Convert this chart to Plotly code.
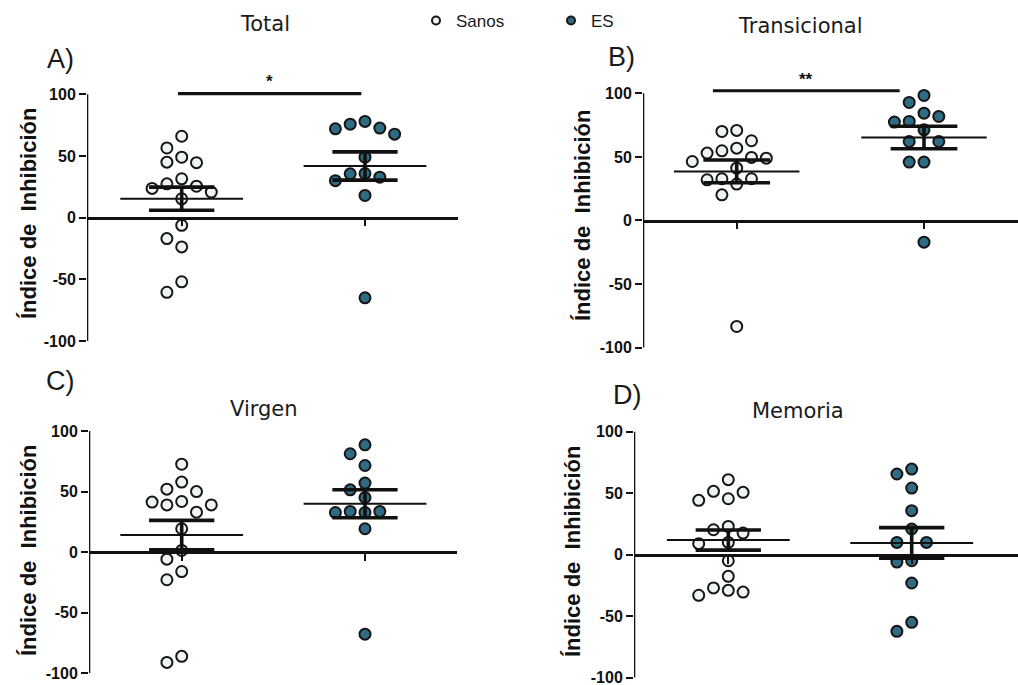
import numpy as np
import plotly.graph_objects as go

# ---------------- data ----------------
groups = ["Sanos", "ES"]
panel_titles = ["Total", "Transicional", "Virgen", "Memoria"]
panel_letters = ["A)", "B)", "C)", "D)"]
sig_labels = ["*", "**", "", ""]
y_title = "Índice de&nbsp; Inhibición"
y_ticks = [-100, -50, 0, 50, 100]

total_sanos = [66, 56.5, 45, 44.6, 49, 31.5, 25.5, 20.7, 23.7, 27.4, 15.3, -6.2, -17, -23.7, -52, -60.5]
total_es = [78, 72.6, 67.7, 72, 75.8, 49, 35.5, 30, 32.8, 35.8, 18, -65]

trans_sanos = [62.7, 70, 70.8, 54.8, 53, 56.9, 49, 49.6, 46.4, 41.2, 32.8, 28.6, 32, 32.8, 20.2, -83.3]
trans_es = [84.4, 92.8, 98.3, 77.9, 77.4, 81.8, 71.3, 62.1, 62.1, 45.9, 45.9, -17]

virgen_sanos = [72.6, 52, 50, 57.8, 41.8, 39, 39, 41.3, 33, 19.3, 1.4, -5.8, -16, -22.8, -86, -91]
virgen_es = [88.6, 81.2, 71.5, 57, 51.4, 45.1, 33.6, 32.7, 32.7, 33.6, 19.3, -67.7]

memoria_sanos = [61, 51.5, 50.7, 45.5, 44.2, 20.3, 23, 17.6, 10, 9, -4.9, -17.6, -29, -33, -30.4, -27]
memoria_es = [65.6, 69.6, 54.2, 35.8, 20.9, 10, 10, -6, -4.9, -23, -55, -62.3]

panel_data = [
    (total_sanos, total_es),
    (trans_sanos, trans_es),
    (virgen_sanos, virgen_es),
    (memoria_sanos, memoria_es),
]

# ---------------- layout geometry (pixels) ----------------
W, H = 1018, 685
geom = [
    dict(xl=87, xr=458, c0=181.7, c1=365.0, y100=94.3, ym100=341.0, ymax=106),
    dict(xl=643, xr=1018, c0=736.7, c1=924.0, y100=93.3, ym100=347.7, ymax=106),
    dict(xl=89, xr=457, c0=181.7, c1=365.0, y100=431.0, ym100=673.3, ymax=104),
    dict(xl=634, xr=1018, c0=728.3, c1=911.7, y100=431.7, ym100=677.7, ymax=104),
]
title_pos = [(265, 24), (800, 26), (264, 409), (798, 411)]
letter_pos = [(60, 59), (621, 57), (60, 381), (627, 395)]
ytitle_pos = [(28, 214), (582, 216), (28, 551), (572, 552)]
sig_geom = [dict(x0=-0.02, x1=0.98, yb=100.5, ys=110), dict(x0=-0.127, x1=0.87, yb=102, ys=111)]

sanos_fill = "#edf5ef"
es_fill = "#2f6b82"
edge = "#161616"
AX = "#111111"

fig = go.Figure()


def swarm(values, ppu, slot_px, diam):
    """simple beeswarm: returns slot offsets (integers) for each value"""
    order = np.argsort(-np.asarray(values, dtype=float), kind="stable")
    placed = []
    slots = np.zeros(len(values))
    cands = [0, -1, 1, -2, 2, -3, 3, -4, 4]
    for i in order:
        v = values[i]
        for c in cands:
            ok = True
            for (pv, pc) in placed:
                dy = (v - pv) * ppu
                dx = (c - pc) * slot_px
                if dx * dx + dy * dy < diam * diam:
                    ok = False
                    break
            if ok:
                slots[i] = c
                placed.append((v, c))
                break
    return slots


shapes = []
annotations = []

for p in range(4):
    g = geom[p]
    n = p + 1
    xa = "x" if n == 1 else f"x{n}"
    ya = "y" if n == 1 else f"y{n}"
    xkey = "xaxis" if n == 1 else f"xaxis{n}"
    ykey = "yaxis" if n == 1 else f"yaxis{n}"

    sp = g["c1"] - g["c0"]
    ppu = (g["ym100"] - g["y100"]) / 200.0
    xr0 = (g["xl"] - g["c0"]) / sp
    xr1 = (g["xr"] - g["c0"]) / sp
    top_px = g["y100"] - (g["ymax"] - 100) * ppu
    bot_px = g["ym100"]
    zero_px = g["y100"] + 100 * ppu

    fig.layout[xkey] = dict(
        domain=[g["xl"] / W, g["xr"] / W], range=[xr0, xr1], anchor="free",
        position=1 - zero_px / H, showline=True, linewidth=2.6, linecolor=AX,
        ticks="outside", ticklen=7, tickwidth=2.4, tickcolor=AX,
        tickvals=[0, 1], showticklabels=False, showgrid=False, zeroline=False,
        fixedrange=True, automargin=False,
    )
    fig.layout[ykey] = dict(
        domain=[1 - bot_px / H, 1 - top_px / H], range=[-100, g["ymax"]],
        anchor=xa, showline=False, ticks="outside", ticklen=7, tickwidth=2.4,
        tickcolor=AX, tickvals=y_ticks, ticktext=[str(t) for t in y_ticks],
        tickfont=dict(family="Liberation Sans", size=16, color=AX, weight="bold"),
        ticklabeloverflow="allow",
        showgrid=False, zeroline=False, fixedrange=True, automargin=False,
    )
    shapes.append(dict(type="line", xref=xa, yref=ya, x0=xr0, x1=xr0, y0=-100, y1=100,
                       line=dict(color=AX, width=2.6)))

    slot_x = 14.8 / sp
    for gi, vals in enumerate(panel_data[p]):
        vals = np.asarray(vals, dtype=float)
        offs = swarm(list(vals), ppu, 14.8, 14)
        xs = gi + offs * slot_x
        fig.add_trace(go.Scatter(
            x=xs, y=vals, mode="markers", xaxis=xa, yaxis=ya, showlegend=False,
            cliponaxis=False, hoverinfo="skip",
            marker=dict(size=11, color=sanos_fill if gi == 0 else es_fill,
                        line=dict(color=edge, width=2)),
            name=groups[gi],
        ))
        m = vals.mean()
        sem = vals.std(ddof=1) / np.sqrt(len(vals))
        mw = 0.335
        cw = 0.178
        fig.add_trace(go.Scatter(x=[gi - mw, gi + mw], y=[m, m], mode="lines",
                                 xaxis=xa, yaxis=ya, showlegend=False, hoverinfo="skip",
                                 line=dict(color=AX, width=2)))
        for yy in (m - sem, m + sem):
            fig.add_trace(go.Scatter(x=[gi - cw, gi + cw], y=[yy, yy], mode="lines",
                                     xaxis=xa, yaxis=ya, showlegend=False, hoverinfo="skip",
                                     line=dict(color=AX, width=3.6)))
        fig.add_trace(go.Scatter(x=[gi, gi], y=[m - sem, m + sem], mode="lines",
                                 xaxis=xa, yaxis=ya, showlegend=False, hoverinfo="skip",
                                 line=dict(color=AX, width=3.6)))

    if sig_labels[p]:
        sg = sig_geom[p]
        shapes.append(dict(type="line", xref=xa, yref=ya, x0=sg["x0"], x1=sg["x1"],
                           y0=sg["yb"], y1=sg["yb"], line=dict(color=AX, width=3.2)))
        star_px = g["y100"] - (sg["ys"] - 100) * ppu
        annotations.append(dict(xref=xa, yref="paper", x=(sg["x0"] + sg["x1"]) / 2,
                                y=1 - star_px / H, yanchor="middle",
                                text=sig_labels[p], showarrow=False,
                                font=dict(family="Liberation Sans", size=17, color=AX,
                                          weight="bold")))

    tx, ty = title_pos[p]
    annotations.append(dict(xref="paper", yref="paper", x=tx / W, y=1 - ty / H,
                            text=panel_titles[p], showarrow=False, xanchor="center",
                            yanchor="middle",
                            font=dict(family="DejaVu Sans", size=21, color="#1a1a1a")))
    lx, ly = letter_pos[p]
    annotations.append(dict(xref="paper", yref="paper", x=lx / W, y=1 - ly / H,
                            text=panel_letters[p], showarrow=False, xanchor="center",
                            yanchor="middle",
                            font=dict(family="Liberation Sans", size=27, color="#1a1a1a")))
    yx, yy_ = ytitle_pos[p]
    annotations.append(dict(xref="paper", yref="paper", x=yx / W, y=1 - yy_ / H,
                            text=y_title, showarrow=False, textangle=-90,
                            xanchor="center", yanchor="middle",
                            font=dict(family="Liberation Sans", size=22, color=AX,
                                      weight="bold")))

for gi, name in enumerate(groups):
    fig.add_trace(go.Scatter(
        x=[None], y=[None], mode="markers", name=name, showlegend=True,
        marker=dict(size=8, color=sanos_fill if gi == 0 else es_fill,
                    line=dict(color=edge, width=2)),
    ))

fig.update_layout(
    width=W, height=H, margin=dict(l=0, r=0, t=0, b=0, autoexpand=False),
    paper_bgcolor="white", plot_bgcolor="white",
    shapes=shapes, annotations=annotations,
    showlegend=True, hovermode=False,
    legend=dict(orientation="h", x=416 / W, y=1 - 3 / H, xanchor="left", yanchor="top",
                font=dict(family="Liberation Sans", size=17, color="#1a1a1a"),
                entrywidth=90, entrywidthmode="pixels", bgcolor="rgba(0,0,0,0)"),
)

fig.write_html("out.html", config={"displayModeBar": False},
               post_script="document.body.style.margin='0px';document.body.style.overflow='hidden';")
